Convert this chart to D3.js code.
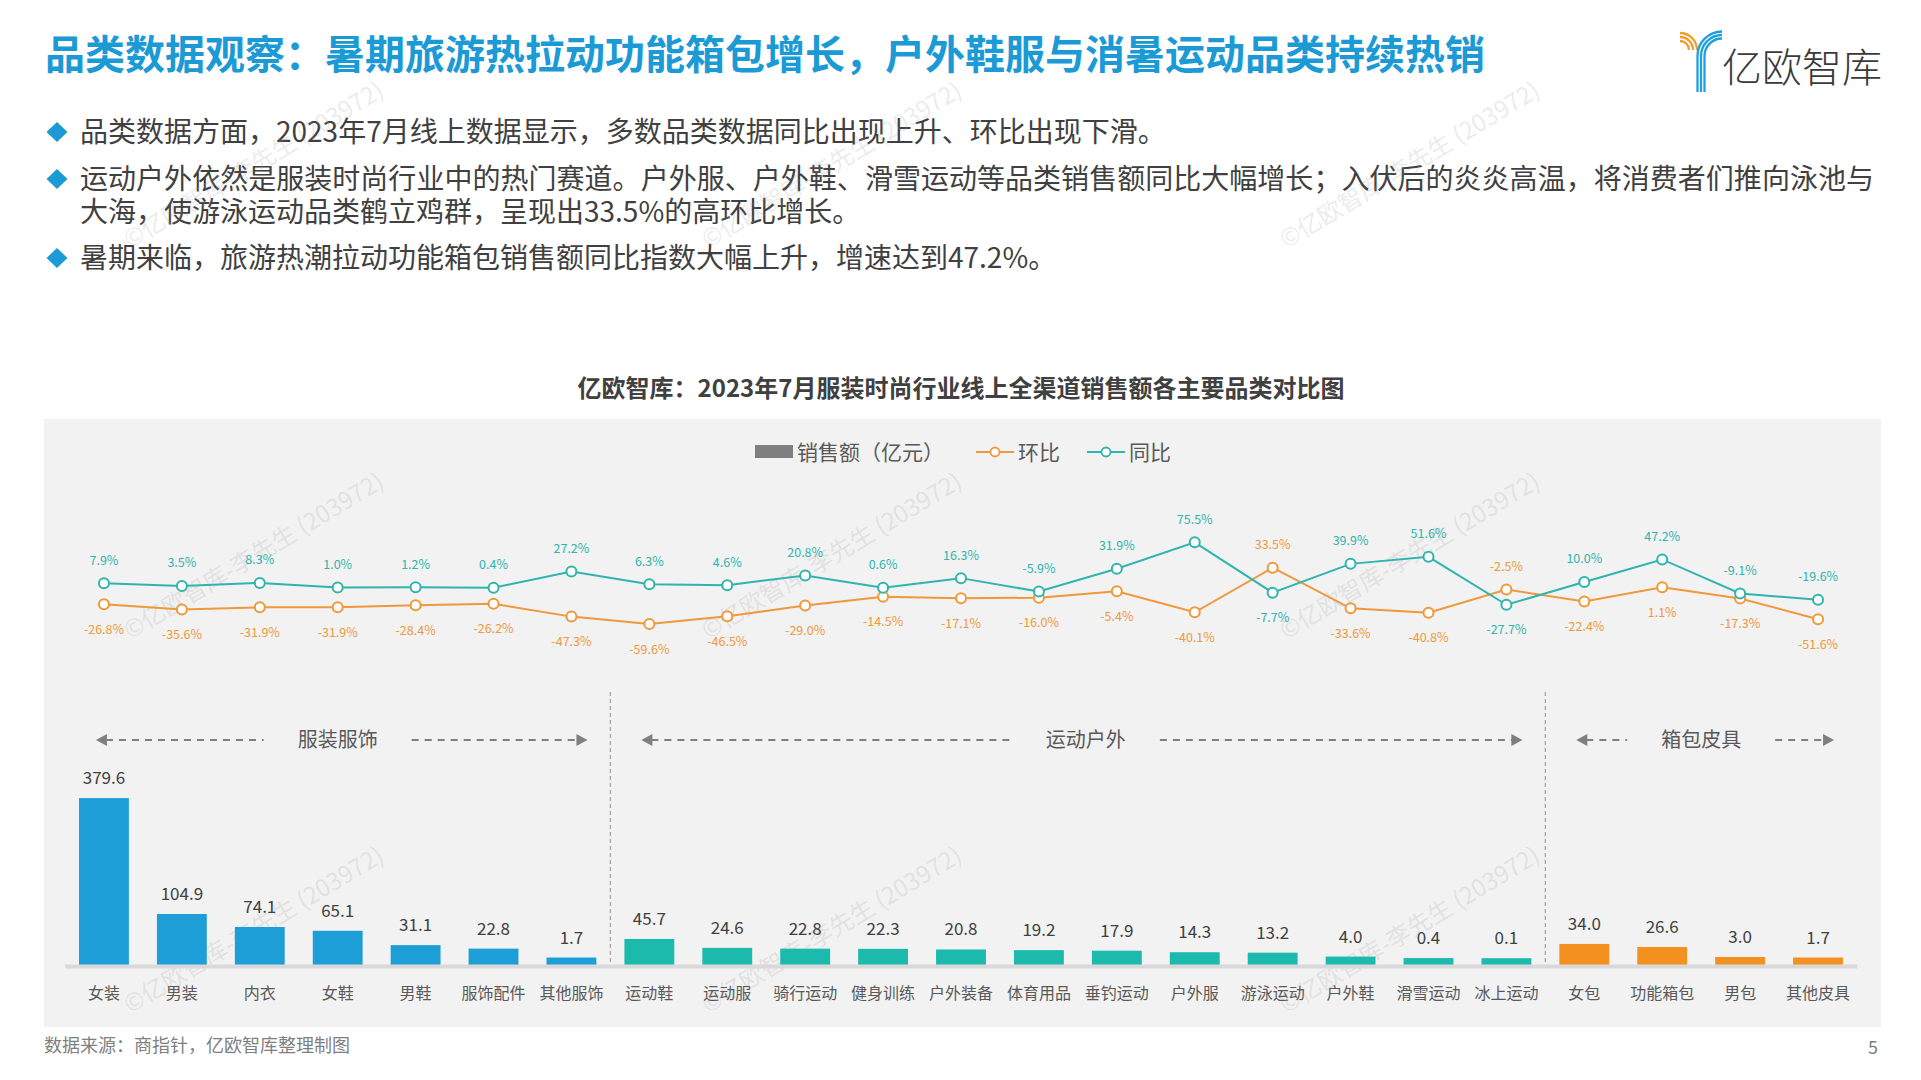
<!DOCTYPE html>
<html>
<head>
<meta charset="utf-8">
<script src="https://cdn.jsdelivr.net/npm/d3@7"></script>
<style>
  body { margin: 0; background: #fff; }
  svg { display: block; }
  text { font-family: "Noto Sans CJK SC", "Noto Sans", sans-serif; }
</style>
</head>
<body>
<div id="chart"></div>
<script>
// data
const categories = ["女装", "男装", "内衣", "女鞋", "男鞋", "服饰配件", "其他服饰",
  "运动鞋", "运动服", "骑行运动", "健身训练", "户外装备", "体育用品", "垂钓运动", "户外服",
  "游泳运动", "户外鞋", "滑雪运动", "冰上运动",
  "女包", "功能箱包", "男包", "其他皮具"];
const sales = [379.6, 104.9, 74.1, 65.1, 31.1, 22.8, 1.7,
  45.7, 24.6, 22.8, 22.3, 20.8, 19.2, 17.9, 14.3, 13.2, 4.0, 0.4, 0.1,
  34.0, 26.6, 3.0, 1.7];
const yoy = [7.9, 3.5, 8.3, 1.0, 1.2, 0.4, 27.2,
  6.3, 4.6, 20.8, 0.6, 16.3, -5.9, 31.9, 75.5, -7.7, 39.9, 51.6, -27.7,
  10.0, 47.2, -9.1, -19.6];
const mom = [-26.8, -35.6, -31.9, -31.9, -28.4, -26.2, -47.3,
  -59.6, -46.5, -29.0, -14.5, -17.1, -16.0, -5.4, -40.1, 33.5, -33.6, -40.8, -2.5,
  -22.4, 1.1, -17.3, -51.6];
const groupNames = ["服装服饰", "运动户外", "箱包皮具"];
const groupSizes = [7, 12, 4];
const groupColors = ["#1e9ed6", "#1cb9ad", "#f4901f"];

const pageTitle = "品类数据观察：暑期旅游热拉动功能箱包增长，户外鞋服与消暑运动品类持续热销";
const chartTitle = "亿欧智库：2023年7月服装时尚行业线上全渠道销售额各主要品类对比图";
const bullets = [
  ["品类数据方面，2023年7月线上数据显示，多数品类数据同比出现上升、环比出现下滑。"],
  ["运动户外依然是服装时尚行业中的热门赛道。户外服、户外鞋、滑雪运动等品类销售额同比大幅增长；入伏后的炎炎高温，将消费者们推向泳池与",
   "大海，使游泳运动品类鹤立鸡群，呈现出33.5%的高环比增长。"],
  ["暑期来临，旅游热潮拉动功能箱包销售额同比指数大幅上升，增速达到47.2%。"]
];
const source = "数据来源：商指针，亿欧智库整理制图";

const blue = "#1b9ad6", teal = "#2fb4ae", orange = "#f0983a";

const svg = d3.select("#chart").append("svg")
    .attr("width", 1921)
    .attr("height", 1080);

svg.append("rect").attr("width", 1921).attr("height", 1080).attr("fill", "#fff");

// page title
svg.append("text")
    .attr("x", 45).attr("y", 69)
    .attr("font-size", 40).attr("font-weight", "bold")
    .attr("fill", blue)
    .text(pageTitle);

// logo
const logo = svg.append("g");
[0, 1, 2].forEach(i => {
    const r = 17 - i * 4;
    logo.append("path")
        .attr("d", `M1680,${50 - r} A${r},${r} 0 0 1 ${1680 + r},50`)
        .attr("fill", "none").attr("stroke", "#f39c2a").attr("stroke-width", 2.3);
    const x0 = 1697.5 + i * 3.5, rr = 1722 - x0;
    logo.append("path")
        .attr("d", `M${x0},92 L${x0},56 A${rr},${rr} 0 0 1 1722,${56 - rr}`)
        .attr("fill", "none").attr("stroke", "#1ea0dc").attr("stroke-width", 2.3);
});
logo.append("text")
    .attr("x", 1722).attr("y", 82)
    .attr("font-size", 40).attr("font-weight", 300)
    .attr("fill", "#3a3a3a")
    .text("亿欧智库");

// bullets
const lineBase = [[142], [189, 222], [268]];
bullets.forEach((lines, i) => {
    const y0 = lineBase[i][0] - 10;
    svg.append("path")
        .attr("d", `M57,${y0 - 10} L67.5,${y0} L57,${y0 + 10} L46.5,${y0} Z`)
        .attr("fill", blue);
    lines.forEach((ln, j) => {
        const t = svg.append("text")
            .attr("x", 80).attr("y", lineBase[i][j])
            .attr("font-size", 28)
            .attr("fill", "#404040")
            .text(ln);
        if (lines.length > 1 && j < lines.length - 1) {
            t.attr("textLength", 1794).attr("lengthAdjust", "spacing");
        }
    });
});

// chart title
svg.append("text")
    .attr("x", 961).attr("y", 397)
    .attr("text-anchor", "middle")
    .attr("font-size", 24).attr("font-weight", "bold")
    .attr("fill", "#404040")
    .text(chartTitle);

// panel
svg.append("rect")
    .attr("x", 44).attr("y", 419)
    .attr("width", 1837).attr("height", 608)
    .attr("fill", "#f2f2f2");

// watermarks
const wm = svg.append("g").attr("pointer-events", "none");
[172, 563, 937].forEach(cy => {
    [258, 836, 1414].forEach(cx => {
        wm.append("text")
            .attr("transform", `translate(${cx},${cy}) rotate(-31)`)
            .attr("text-anchor", "middle")
            .attr("font-size", 24)
            .attr("fill", "#999").attr("fill-opacity", 0.2)
            .text("©亿欧智库-李先生 (203972)");
    });
});

// legend
const legend = svg.append("g").attr("font-size", 21).attr("fill", "#595959");
legend.append("rect").attr("x", 755).attr("y", 445).attr("width", 38).attr("height", 13).attr("fill", "#7f7f7f");
legend.append("text").attr("x", 797).attr("y", 460).text("销售额（亿元）");
[[976, orange, "环比"], [1087, teal, "同比"]].forEach(([lx, c, name]) => {
    legend.append("line").attr("x1", lx).attr("x2", lx + 38).attr("y1", 452).attr("y2", 452)
        .attr("stroke", c).attr("stroke-width", 2);
    legend.append("circle").attr("cx", lx + 19).attr("cy", 452).attr("r", 4.5)
        .attr("fill", "#fff").attr("stroke", c).attr("stroke-width", 1.8);
    legend.append("text").attr("x", lx + 42).attr("y", 460).text(name);
});

// scales
const x = d3.scaleBand()
    .domain(categories)
    .range([65, 1857])
    .paddingInner(0.36)
    .paddingOuter(0.18);
const cx = d => x(d) + x.bandwidth() / 2;

const yBar = d3.scaleLinear().domain([-16, 400]).range([965, 789.5]);
const yPct = d3.scaleLinear().domain([-100, 100]).range([648.5, 527.5]);

const groupOf = [];
groupSizes.forEach((n, g) => { for (let k = 0; k < n; k++) groupOf.push(g); });

// bars
svg.append("g").selectAll("rect")
    .data(categories)
    .join("rect")
    .attr("x", d => x(d))
    .attr("width", x.bandwidth())
    .attr("y", (d, i) => yBar(sales[i]))
    .attr("height", (d, i) => yBar(-16) - yBar(sales[i]))
    .attr("fill", (d, i) => groupColors[groupOf[i]]);

svg.append("g").selectAll("text")
    .data(categories)
    .join("text")
    .attr("x", d => cx(d))
    .attr("y", (d, i) => yBar(sales[i]) - 14)
    .attr("text-anchor", "middle")
    .attr("font-size", 17)
    .attr("fill", "#404040")
    .text((d, i) => sales[i].toFixed(1));

// category axis
const axis = svg.append("g")
    .attr("transform", "translate(0,966)")
    .call(d3.axisBottom(x).tickSize(0).tickSizeOuter(0));
axis.select(".domain").attr("stroke", "#d9d9d9").attr("stroke-width", 4);
axis.selectAll("text")
    .attr("y", 33).attr("dy", 0)
    .attr("font-size", 16)
    .attr("font-family", "Noto Sans CJK SC")
    .attr("fill", "#595959");

// group separators and labels
let start = 0;
const gLab = svg.append("g");
groupSizes.forEach((n, g) => {
    const first = categories[start], last = categories[start + n - 1];
    if (start > 0) {
        const prev = categories[start - 1];
        const sx = (x(prev) + x.bandwidth() + x(first)) / 2;
        gLab.append("line")
            .attr("x1", sx).attr("x2", sx).attr("y1", 692).attr("y2", 964)
            .attr("stroke", "#a6a6a6").attr("stroke-width", 1.3)
            .attr("stroke-dasharray", "4,3");
    }
    const left = cx(first) - 8, right = cx(last) + 16;
    const mid = (cx(first) + cx(last)) / 2 + (g === 1 ? 8 : 0);
    const gy = 740;
    gLab.append("text")
        .attr("x", mid).attr("y", gy + 7)
        .attr("text-anchor", "middle")
        .attr("font-size", 20)
        .attr("fill", "#595959")
        .text(groupNames[g]);
    const segs = [[left + 10, mid - 74], [mid + 74, right - 10]];
    segs.forEach(([a, b]) => {
        gLab.append("line")
            .attr("x1", a).attr("x2", b).attr("y1", gy).attr("y2", gy)
            .attr("stroke", "#7f7f7f").attr("stroke-width", 2.2)
            .attr("stroke-dasharray", "7,6");
    });
    gLab.append("path")
        .attr("d", `M${left},${gy} L${left + 11},${gy - 6} L${left + 11},${gy + 6} Z`)
        .attr("fill", "#7f7f7f");
    gLab.append("path")
        .attr("d", `M${right},${gy} L${right - 11},${gy - 6} L${right - 11},${gy + 6} Z`)
        .attr("fill", "#7f7f7f");
    start += n;
});

// lines
const series = [
    { name: "环比", values: mom, color: orange },
    { name: "同比", values: yoy, color: teal }
];
const line = d3.line()
    .x((v, i) => cx(categories[i]))
    .y(v => yPct(v));

series.forEach(s => {
    svg.append("path")
        .datum(s.values)
        .attr("fill", "none")
        .attr("stroke", s.color)
        .attr("stroke-width", 2)
        .attr("d", line);
});

series.forEach((s, si) => {
    const other = series[1 - si].values;
    const g = svg.append("g");
    g.selectAll("circle")
        .data(s.values)
        .join("circle")
        .attr("cx", (v, i) => cx(categories[i]))
        .attr("cy", v => yPct(v))
        .attr("r", 5)
        .attr("fill", "#fff")
        .attr("stroke", s.color)
        .attr("stroke-width", 2);
    g.selectAll("text")
        .data(s.values)
        .join("text")
        .attr("x", (v, i) => cx(categories[i]))
        .attr("y", (v, i) => v >= other[i] ? yPct(v) - 18.5 : yPct(v) + 29.5)
        .attr("text-anchor", "middle")
        .attr("font-size", 12.5)
        .attr("fill", s.color)
        .text(v => v.toFixed(1) + "%");
});

// footer
svg.append("text")
    .attr("x", 44).attr("y", 1052)
    .attr("font-size", 18)
    .attr("fill", "#7f7f7f")
    .text(source);
svg.append("text")
    .attr("x", 1878).attr("y", 1054)
    .attr("text-anchor", "end")
    .attr("font-size", 18)
    .attr("fill", "#7f7f7f")
    .text("5");
</script>
</body>
</html>
